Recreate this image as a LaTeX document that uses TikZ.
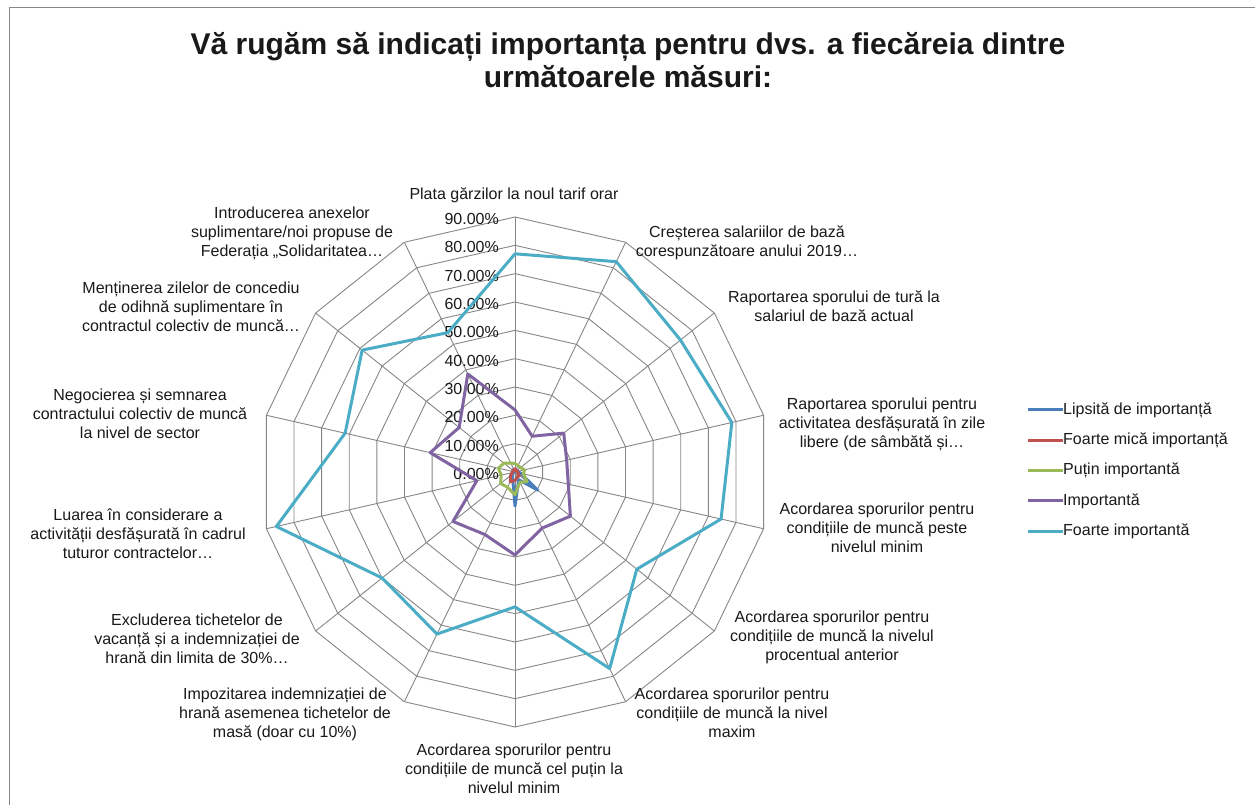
\documentclass[tikz,border=0pt]{standalone}
\usepackage{fontspec}
\setmainfont{Liberation Sans}
\usepackage{xcolor}
\usetikzlibrary{positioning}
\definecolor{gridgray}{RGB}{134,134,134}
\definecolor{lipsa}{RGB}{74,126,187}
\definecolor{mica}{RGB}{192,80,77}
\definecolor{putin}{RGB}{155,187,89}
\definecolor{imp}{RGB}{128,100,162}
\definecolor{foarte}{RGB}{75,172,198}

\newcommand{\radarserie}[2]{%
    \foreach \v [count=\i from 0] in {#2}
        \coordinate (#1-\i) at ({90-\i*360/14}:{\v*2.8333});
    \draw[serie, #1] (#1-0) \foreach \i in {1,...,13}{ -- (#1-\i)} -- cycle;
}

\begin{document}
\begin{tikzpicture}[x=1pt, y=1pt,
    every node/.style={font=\fontsize{16}{19}\selectfont, text=black!90, inner sep=0pt},
    gridline/.style={draw=gridgray, line width=0.9pt},
    axlabel/.style={align=center},
    serie/.style={line width=3pt, line join=round}]
    \useasboundingbox (0,0) rectangle (1255,805);
    \draw[gridgray, line width=1pt] (9,-10) -- (9,797) -- (1265,797);

    \node[font=\bfseries\fontsize{30}{33}\selectfont, align=center] (titlu) at (628,745)
        {Vă rugăm să indicați importanța pentru dvs. a fiecăreia dintre\\următoarele măsuri:};

    \begin{scope}[shift={(515,333)}]
        \coordinate (o) at (0,0);
        \foreach \k in {1,...,9}
            \draw[gridline] (90:{\k*28.333}) \foreach \i in {1,...,13}{ -- ({90-\i*360/14}:{\k*28.333})} -- cycle;
        \foreach \i in {0,...,13}
            \draw[gridline] (o) -- ({90-\i*360/14}:255);
        \foreach \k in {0,...,9}{
            \pgfmathtruncatemacro\v{10*\k}
            \node[anchor=east] (tick-\k) at (-16,{\k*28.333-2}) {\v.00\%};
        }
        \radarserie{lipsa}{1,0.5,1,1,2,10.3,3,12,2,1,0.5,0.5,1,1}
        \radarserie{mica}{1,1,0.5,1,1,2,2,3,3.8,2,1,1,0.5,1}
        \radarserie{putin}{3,2.5,2.5,3.5,3,5.5,4,8,6,6.5,5,6,5,3.5}
        \radarserie{imp}{21.9,14,22,18.7,19.3,25,22,29.3,24.5,28,13.8,30.7,25.2,38.4}
        \radarserie{foarte}{77,82.4,74.7,78.5,74.6,55,77,47.6,63.5,60,86.4,61.5,69,54.6}
    \end{scope}

    \node[axlabel] (ax-0) at (514,610) {Plata gărzilor la noul tarif orar};
    \node[axlabel] (ax-1) at (747,562) {Creșterea salariilor de bază\\corespunzătoare anului 2019…};
    \node[axlabel] (ax-2) at (834,499) {Raportarea sporului de tură la\\salariul de bază actual};
    \node[axlabel] (ax-3) at (882,381) {Raportarea sporului pentru\\activitatea desfășurată în zile\\libere (de sâmbătă și…};
    \node[axlabel] (ax-4) at (877,277) {Acordarea sporurilor pentru\\condițiile de muncă peste\\nivelul minim};
    \node[axlabel] (ax-5) at (832,168) {Acordarea sporurilor pentru\\condițiile de muncă la nivelul\\procentual anterior};
    \node[axlabel] (ax-6) at (732,92) {Acordarea sporurilor pentru\\condițiile de muncă la nivel\\maxim};
    \node[axlabel] (ax-7) at (514,36) {Acordarea sporurilor pentru\\condițiile de muncă cel puțin la\\nivelul minim};
    \node[axlabel] (ax-8) at (285,91) {Impozitarea indemnizației de\\hrană asemenea tichetelor de\\masă (doar cu 10\%)};
    \node[axlabel] (ax-9) at (197,166) {Excluderea tichetelor de\\vacanță și a indemnizației de\\hrană din limita de 30\%…};
    \node[axlabel] (ax-10) at (138,271) {Luarea în considerare a\\activității desfășurată în cadrul\\tuturor contractelor…};
    \node[axlabel] (ax-11) at (140,391) {Negocierea și semnarea\\contractului colectiv de muncă\\la nivel de sector};
    \node[axlabel] (ax-12) at (191,498) {Menținerea zilelor de concediu\\de odihnă suplimentare în\\contractul colectiv de muncă…};
    \node[axlabel] (ax-13) at (292,572) {Introducerea anexelor\\suplimentare/noi propuse de\\Federația „Solidaritatea…};

    \foreach \c/\t [count=\j from 0] in {lipsa/Lipsită de importanță, mica/Foarte mică importanță,
            putin/Puțin importantă, imp/Importantă, foarte/Foarte importantă}{
        \coordinate (leg-\j) at (1028,{395-\j*30.3});
        \node[anchor=west] (legtext-\j) at (1063,{395-\j*30.3}) {\t};
        \draw[\c, line width=3pt] (leg-\j) -- (legtext-\j.west);
    }
\end{tikzpicture}
\end{document}
